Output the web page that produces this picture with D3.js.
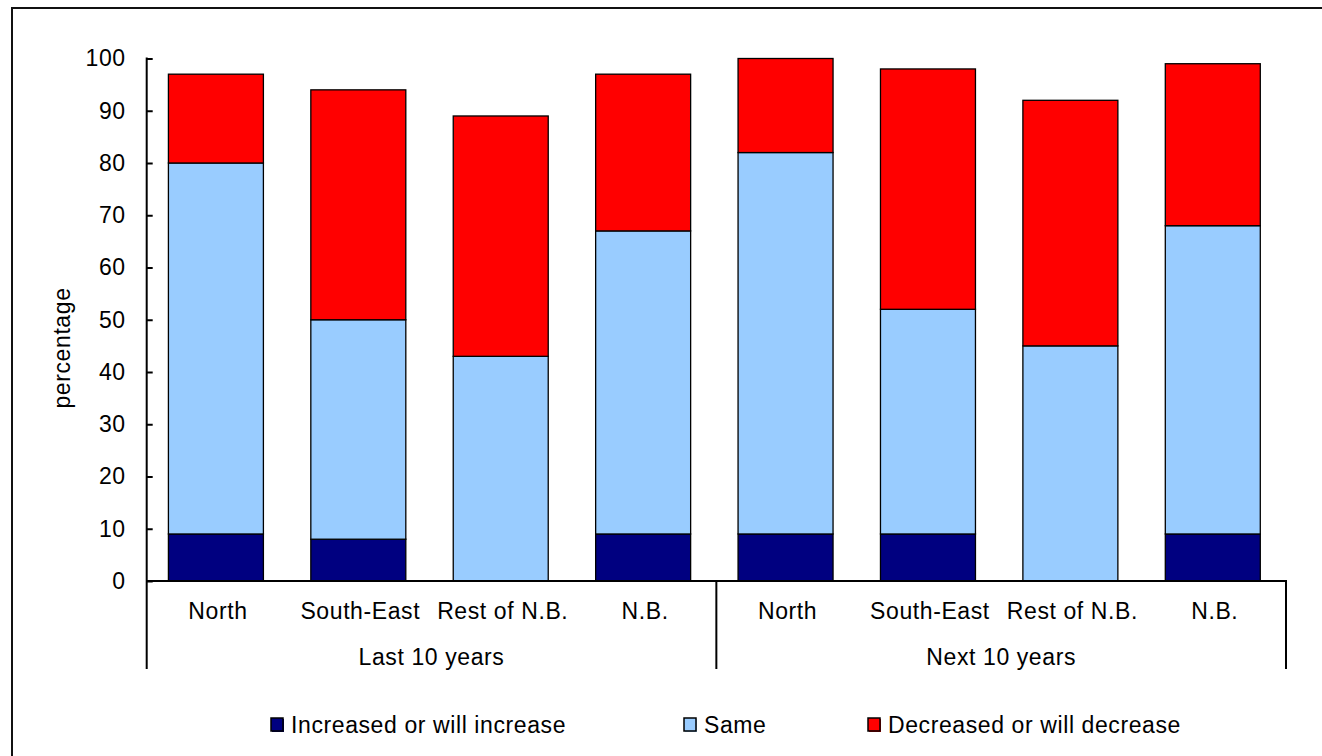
<!DOCTYPE html>
<html>
<head>
<meta charset="utf-8">
<script src="https://cdn.jsdelivr.net/npm/d3@7/dist/d3.min.js"></script>
<style>
  html, body { margin: 0; padding: 0; background: #fff; }
  svg { display: block; font-family: "Liberation Sans", Arial, sans-serif; }
  svg text { letter-spacing: 0.6px; fill: #000; }
</style>
</head>
<body>
<svg id="chart" width="1322" height="756"></svg>
<script>
// Survey responses by region, for the past and the coming decade (percent)
const periods = ["Last 10 years", "Next 10 years"];
const regions = ["North", "South-East", "Rest of N.B.", "N.B."];
const increased = [9, 8, 0, 9, 9, 9, 0, 9];
const same = [71, 42, 43, 58, 73, 43, 45, 59];
const decreased = [17, 44, 46, 30, 18, 46, 47, 31];
const seriesNames = ["Increased or will increase", "Same", "Decreased or will decrease"];
const yTicks = [0, 10, 20, 30, 40, 50, 60, 70, 80, 90, 100];
const yLabel = "percentage";

const colors = ["#000080", "#99CCFF", "#FF0000"];

// one row per bar: period + region
const rows = [];
periods.forEach((p, pi) => {
  regions.forEach((r, ri) => {
    const i = pi * regions.length + ri;
    rows.push({ key: p + "|" + r, period: p, region: r,
      "Increased or will increase": increased[i],
      "Same": same[i],
      "Decreased or will decrease": decreased[i] });
  });
});

const svg = d3.select("#chart");
const fontSize = 23;

// outer frame
svg.append("rect")
  .attr("x", 12).attr("y", 8)
  .attr("width", 1400).attr("height", 800)
  .attr("fill", "none").attr("stroke", "#111").attr("stroke-width", 2);

const plot = { left: 146.7, right: 1286, top: 58.5, bottom: 581, catBottom: 669 };

const x = d3.scaleBand()
  .domain(rows.map(d => d.key))
  .range([plot.left, plot.right])
  .paddingInner(0.333)
  .paddingOuter(0.1665);

const y = d3.scaleLinear().domain([0, 100]).range([plot.bottom, plot.top]);

const stack = d3.stack().keys(seriesNames);
const layers = stack(rows);

const g = svg.append("g");
g.selectAll("g.layer")
  .data(layers)
  .join("g")
  .attr("class", "layer")
  .attr("fill", (d, i) => colors[i])
  .selectAll("rect")
  .data(d => d.filter(s => s[1] - s[0] > 0))
  .join("rect")
  .attr("x", d => x(d.data.key) - 2)
  .attr("width", x.bandwidth())
  .attr("y", d => y(d[1]))
  .attr("height", d => y(d[0]) - y(d[1]))
  .attr("stroke", "#000")
  .attr("stroke-width", 1.3);

// y axis
const yAxis = d3.axisLeft(y).tickValues(yTicks).tickSize(-6).tickPadding(21);
const yg = svg.append("g").attr("transform", `translate(${plot.left},0)`).call(yAxis);
yg.select(".domain").remove();
yg.selectAll(".tick line").attr("stroke", "#000").attr("stroke-width", 2);
yg.selectAll(".tick text").attr("font-size", fontSize).attr("fill", "#000")
  .attr("font-family", "Liberation Sans, Arial, sans-serif");

// axis lines and group separators
svg.append("line")
  .attr("x1", plot.left).attr("x2", plot.left)
  .attr("y1", plot.top - 1).attr("y2", plot.catBottom)
  .attr("stroke", "#000").attr("stroke-width", 2);
svg.append("line")
  .attr("x1", plot.left).attr("x2", plot.right + 1)
  .attr("y1", plot.bottom).attr("y2", plot.bottom)
  .attr("stroke", "#000").attr("stroke-width", 2);

const step = x.step();
const groupEdges = periods.map(p => x(p + "|" + regions[regions.length - 1]) + x.bandwidth() + step * x.paddingInner() / 2);
svg.selectAll("line.sep")
  .data(groupEdges)
  .join("line")
  .attr("class", "sep")
  .attr("x1", d => d).attr("x2", d => d)
  .attr("y1", plot.bottom).attr("y2", plot.catBottom)
  .attr("stroke", "#000").attr("stroke-width", 2);

// category labels
svg.selectAll("text.cat")
  .data(rows)
  .join("text")
  .attr("class", "cat")
  .attr("x", d => x(d.key) + x.bandwidth() / 2)
  .attr("y", 619)
  .attr("text-anchor", "middle")
  .attr("font-size", fontSize)
  .text(d => d.region);

// period labels
svg.selectAll("text.period")
  .data(periods)
  .join("text")
  .attr("class", "period")
  .attr("x", p => {
    const a = x(p + "|" + regions[0]);
    const b = x(p + "|" + regions[regions.length - 1]) + x.bandwidth();
    return (a + b) / 2;
  })
  .attr("y", 665)
  .attr("text-anchor", "middle")
  .attr("font-size", fontSize)
  .text(p => p);

// y label
svg.append("text")
  .attr("transform", `translate(70,348) rotate(-90)`)
  .attr("text-anchor", "middle")
  .attr("font-size", fontSize)
  .text(yLabel);

// legend
const legendX = [271, 684, 868];
const lg = svg.selectAll("g.legend")
  .data(seriesNames)
  .join("g")
  .attr("class", "legend")
  .attr("transform", (d, i) => `translate(${legendX[i]},718)`);
lg.append("rect")
  .attr("x", 1).attr("y", 1).attr("width", 12).attr("height", 13)
  .attr("fill", (d, i) => colors[i]);
lg.append("rect")
  .attr("width", 12).attr("height", 13)
  .attr("fill", (d, i) => colors[i])
  .attr("stroke", "#000").attr("stroke-width", 1.5);
lg.append("text")
  .attr("x", 20).attr("y", 15)
  .attr("font-size", fontSize)
  .text(d => d);
</script>
</body>
</html>
